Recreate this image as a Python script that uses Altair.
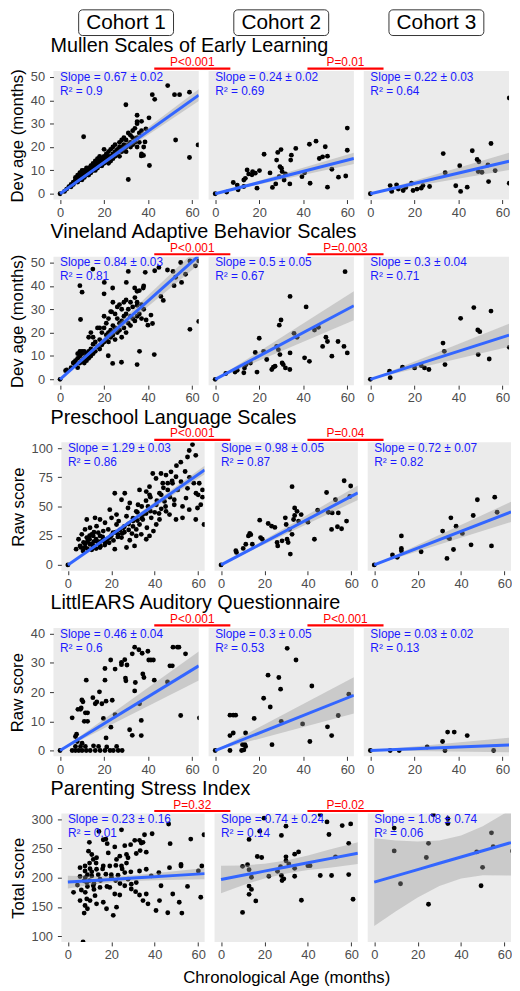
import altair as alt
import pandas as pd

FONT = "Liberation Sans"

# ---------------- text content ----------------
cohorts = ["Cohort 1", "Cohort 2", "Cohort 3"]
row_titles = ["Mullen Scales of Early Learning", "Vineland Adaptive Behavior Scales",
              "Preschool Language Scales", "LittlEARS Auditory Questionnaire",
              "Parenting Stress Index"]
y_titles = ["Dev age (months)", "Dev age (months)", "Raw score", "Raw score", "Total score"]
x_title = "Chronological Age (months)"
y_limits = [(0, 50), (0, 50), (0, 100), (0, 40), (100, 300)]
y_ticks = [[0, 10, 20, 30, 40, 50], [0, 10, 20, 30, 40, 50], [0, 25, 50, 75, 100],
           [0, 10, 20, 30, 40], [100, 150, 200, 250, 300]]
x_ticks = [0, 20, 40, 60]
slope_labels = [["Slope = 0.67 ± 0.02", "Slope = 0.24 ± 0.02", "Slope = 0.22 ± 0.03"],
                ["Slope = 0.84 ± 0.03", "Slope = 0.5 ± 0.05", "Slope = 0.3 ± 0.04"],
                ["Slope = 1.29 ± 0.03", "Slope = 0.98 ± 0.05", "Slope = 0.72 ± 0.07"],
                ["Slope = 0.46 ± 0.04", "Slope = 0.3 ± 0.05", "Slope = 0.03 ± 0.02"],
                ["Slope = 0.23 ± 0.16", "Slope = 0.74 ± 0.24", "Slope = 1.08 ± 0.74"]]
r2_labels = [["R² = 0.9", "R² = 0.69", "R² = 0.64"],
             ["R² = 0.81", "R² = 0.67", "R² = 0.71"],
             ["R² = 0.86", "R² = 0.87", "R² = 0.82"],
             ["R² = 0.6", "R² = 0.53", "R² = 0.13"],
             ["R² = 0.01", "R² = 0.14", "R² = 0.06"]]
p_labels = [["P<0.001", "P=0.01"], ["P<0.001", "P=0.003"], ["P<0.001", "P=0.04"],
            ["P<0.001", "P<0.001"], ["P=0.32", "P=0.02"]]

# ---------------- scatter data (age, score) ----------------
mullen_c1 = [(0,0),(2,1),(3,2),(4,3),(5,3),(5,4),(6,5),(6,4),(7,5),(7,6),(7,7),(8,5),(8,6),(8,7),(8,8),
    (9,6),(9,7),(9,8),(9,9),(10,6),(10,7),(10,8),(10,9),(10,10),(11,7),(11,8),(11,9),(11,10),(12,8),(12,9),
    (12,10),(12,11),(13,8),(13,9),(13,10),(13,11),(14,9),(14,10),(14,12),(15,10),(15,11),(15,13),(16,10),
    (16,12),(16,14),(17,11),(17,13),(17,15),(18,12),(18,14),(18,16),(19,12),(19,13),(19,15),(20,13),(20,14),
    (20,16),(20,19),(21,14),(21,15),(21,17),(22,13),(22,15),(22,16),(22,18),(23,14),(23,16),(23,19),(24,15),
    (24,17),(24,20),(25,16),(25,18),(25,21),(26,17),(26,19),(27,16),(27,20),(27,22),(28,18),(28,20),(28,23),
    (29,19),(29,21),(29,24),(30,18),(30,20),(30,23),(31,21),(31,26),(32,20),(32,22),(32,25),(33,21),(33,24),
    (33,27),(34,22),(34,28),(35,20),(35,24),(35,30),(36,22),(36,26),(37,17),(38,20),(37,27),(37,31),
    (10.7,24.4),(29.9,38.1),(35,33.6),(35,30.8),(41.9,42.4),(43,40.4),(48.9,46.3),(52,42.4),(54.3,42.4),
    (58.8,43.5),(52.5,23),(58.8,15.5),(62.7,20.9),(31,6.1),(40.6,12.1),(37.9,16.4),(39,27.8),(36.9,16.2),
    (40.4,32.5),(38.6,22.2)]
mullen_c2 = [(0,0),(5.2,0.7),(8.2,4.8),(10.4,1.7),(10,3.7),(13,3.1),(13,5.9),(13.7,6.6),(14.5,10.2),(15.2,8.5),
    (16.7,8.1),(17,9.5),(18.2,8.8),(19,2.4),(20.1,9.9),(22.2,16.9),(24.9,8.9),(26,2.7),(27.5,4.2),(27.9,14.4),
    (28.4,17.7),(29.1,7.3),(29.4,11.6),(29.9,18.9),(30.1,10.9),(30.4,9.5),(31.3,5.9),(31.9,8.5),(33.9,4.2),
    (34.3,14.4),(34.6,16.5),(36.6,19.4),(39.4,7.3),(40.6,9),(42.8,21.2),(43.1,4.5),(45.8,22.5),(47.3,15.1),
    (48.8,15.8),(50,20.1),(51,16.1),(51,2.8),(53,10.5),(56,7.1),(59.3,7.6),(60,28.1),(60,18.6)]
mullen_c3 = [(0,0),(9,3.5),(11.9,3.8),(9.7,1),(12.7,2),(14.9,1.4),(16.1,2.7),(18.7,4.5),(19.4,1.4),(21.2,2),
    (23.1,2.4),(23.9,3.5),(26.9,3.1),(33.1,17.2),(34,9),(38.8,3.4),(40.6,12),(41,1),(44,2.8),(46.3,18.4),
    (48.5,14.7),(49.3,13.7),(49,9.5),(50.7,9.2),(53.4,12.3),(53.7,5.2),(54.8,21.5),(56.7,9.9),(63.1,4.5),(63.1,41)]

vineland_c1 = [(0,0),(2.5,3.7),(6.3,7.2),(3,4),(5,5),(6,7),(7,6),(7,8),(8,5),(8,9),(8,11),(9,7),(9,10),(9,12),
    (10,8),(10,11),(10,12),(11,7),(11,9),(11,12),(12,8),(12,10),(12,11),(13,9),(13,12),(13,18),(14,10),(14,13),
    (14,20),(15,11),(15,15),(15,18),(16,12),(16,16),(17,14),(17,22),(18,13),(18,17),(18,22),(19,15),(19,20),
    (20,16),(20,22),(20,27),(21,17),(21,19),(21,24),(22,16),(22,20),(22,26),(23,18),(23,21),(23,29),(24,19),
    (24,23),(24,33),(25,17),(25,22),(25,28),(26,20),(26,26),(26,31),(27,21),(27,24),(27,32),(28,18),(28,25),
    (28,30),(29,22),(29,27),(29,33),(30,20),(30,28),(30,34),(31,24),(31,30),(32,23),(32,27),(32,33),(33,26),
    (33,31),(34,25),(34,35),(35,27),(35,33),(36,28),(36,38),(37,26),(37,32),(38,30),(38,40),
    (9,40.1),(10,37.3),(14.9,47.2),(20.1,41.5),(23.9,39.1),(20,36.6),(23.4,28.9),(30.1,41.5),(31,46.2),
    (33.9,39.1),(35,37.7),(35,31.7),(37.8,39.1),(38.7,45.8),(43,46.5),(44.9,47.9),(48.8,46.8),(51.3,46.2),
    (52.5,43.7),(51.8,40.1),(55.2,41.5),(57,45),(59,50.7),(61.5,48.6),(63,50.7),(54.8,50),(59,21.4),(36.1,12),
    (35,6.3),(27.9,7.3),(23.9,6.8),(42.8,10.6),(63,24.8),(45.8,35.5),(46.9,33.8),(41.3,27.5),(42,23.9),
    (39.9,23.2),(39.1,25.4),(9.3,25.6),(21.9,10.1),(19,14.8)]
vineland_c2 = [(0,0),(4.8,2.5),(10,3.9),(9,3.1),(13,2.8),(13.3,4.9),(14,6.3),(16,7),(19,3.1),(18.2,11.5),
    (20,17.6),(22,12),(23.4,8.5),(25.7,4.2),(26.4,5.2),(27.2,5.6),(27.9,14.1),(28.7,12.7),(29.1,23.2),
    (29.9,25.4),(29.4,10.6),(30.4,7),(30.9,6.3),(31.9,4.9),(33.9,4.2),(34,11.3),(34,35.5),(35.8,19.7),
    (37.2,18),(41.3,31),(40.6,9.2),(42.8,7.7),(45.1,21.1),(46.9,22.3),(48.8,14.1),(50.3,18),(51,16.2),
    (53,9.9),(55.8,16.2),(58.5,14.1),(59,46.1),(60,11.3)]
vineland_c3 = [(0,0),(8.7,3.5),(9,0.7),(14.6,5.2),(20.1,4.9),(23.1,5.9),(24.6,4.9),(26.6,4.2),(33,15.5),
    (33.6,12),(33.9,6.3),(41,26.1),(47,30.7),(48.8,21.1),(49.7,20.4),(49,10.6),(54,8.7),(54.8,29.2),(63.1,13.7)]

preschool_c1 = [(0,0),(57.4,103),(55.9,98),(58.9,93.8),(55.1,92.4),(39.1,78.3),(40.6,74),(42.9,78.3),(45.2,76.9),
    (47.5,79.7),(49.8,75.5),(52.1,71.3),(48.2,69.9),(43.7,69.9),(37.6,67),(36.1,62.8),(33,64.2),(37.6,60),
    (42.2,61.4),(46,64.2),(50.6,64.2),(55.1,65.6),(60.5,69.9),(62,64.2),(59,61.4),(54.4,57.2),(49,55.8),
    (44.5,54.4),(40.7,51.5),(36.9,50.1),(32.3,51.5),(28.5,53),(24.7,55.8),(21.6,61.4),(26.2,61.4),(27.7,48.7),
    (31.5,45.9),(34.5,43.1),(38.4,40.3),(42.2,38.9),(45.2,45.9),(49,51.5),(52.8,50.1),(55.9,47.3),(59.7,48.7),
    (61.2,51.5),(52.8,40.3),(49.8,38.9),(46.8,43.1),(58.9,38.9),(62.7,34.6),(19.3,47.3),(22.4,43.1),(20.1,40.3),
    (23.4,37.5),(27,41.7),(30,37.5),(33,34.6),(36.4,31.8),(39.4,29),(29.5,26.8),(25.6,31.8),(22.4,34.6),
    (17.1,36.1),(14.8,38.9),(12.5,40.3),(8.7,38.9),(13.2,33.2),(10.2,31.8),(7.9,30.4),(6.4,26.2),(4.9,22),
    (3.8,13.5),(5.6,16.3),(7.2,19.2),(9.4,22),(11.7,24.8),(14,27.6),(16.3,29),(18.6,30.4),(20.8,27.6),
    (23.1,26.2),(24.7,23.4),(19.3,23.4),(16.3,22),(13.2,20.6),(10.2,17.7),(7.9,14.9),(11.7,16.3),(14.8,14.9),
    (17.1,19.2),(14.8,24.8),(11,26.2),(8.7,23.4),(28.5,21.1),(31.5,24.8),(33.8,26.2),(36.1,22),(37.6,24.8),
    (30.7,16.3),(21.6,13.5),(27,14.9),(34.5,38.9),(31.5,30.4),(40.7,34.6),
    (8,18),(9,20),(10,22),(11,18),(12,20),(13,22),(14,18),(15,20),(16,24),(18,22),(20,25),(22,28),(24,30),
    (12,28),(10,25),(6,15),(7,12),(9,14),(11,13),(13,14),(15,16),(17,17),(19,19),(21,21),(23,24),(25,27),
    (26,33),(28,35),(30,40),(32,45),(34,50),(36,55),(38,58),(40,45),(41,55),(43,60),(44,66),(46,70),(48,72),
    (50,85),(52,88),(54,80),(56,75),(58,70),(60,60),(62,58),(47,58),(45,50),(43,48),(42,44),(38,46),(36,44),
    (34,40),(32,38),(30,33),(28,30),(26,28)]
preschool_c2 = [(0,0),(6.8,12.1),(7.1,10.7),(10.2,14.1),(11.4,17.7),(12.6,24.8),(13.2,27),(13.7,25.9),(14.4,17.7),
    (17.8,38.3),(18.2,23.4),(19,22),(21.7,35.5),(23.3,33.2),(24.8,32.1),(25.8,19.2),(26.1,16.3),(28.1,20.6),
    (29.6,40.3),(30,34.6),(30.4,22),(30.9,19.2),(31.5,30.4),(31.9,9.3),(32.7,67),(32.7,26.2),(33.4,38.9),
    (33.9,48.7),(33.9,42.3),(35,45.9),(35.7,37.5),(36.9,43.1),(40,36.6),(43,22),(44.5,46.8),(48.6,62),
    (49.4,45.1),(50.9,30.4),(51.2,44.5),(52.7,55.8),(54,44.5),(53.6,32.7),(55.5,31),(56.7,72.1),(57.8,37.5),
    (59.3,58.6),(59.7,67.6)]
preschool_c3 = [(0,0),(8.4,8.5),(10.6,6.5),(12.5,24.8),(12.5,14.1),(12.5,12.1),(21.6,11.3),(31.5,29),(33.5,5.6),
    (34.2,23.4),(34.7,22.5),(35.3,40.3),(36.5,13.2),(37.7,33.2),(40.6,27),(44.6,17.2),(45.6,42.3),(47.5,55.8),
    (54,16.3),(55.5,58),(56.6,45.1)]

littlears_c1 = [(0,0),(5.5,0),(7,0),(8.5,0),(10,0),(11.9,0),(13.7,0),(16,0),(18.2,0),(20.4,0),(22.7,0),(24.2,0),
    (26.4,0),(28.2,0),(7,1.4),(9.3,1.4),(11.5,1.4),(15.2,1.6),(17.5,1.4),(21.2,1.2),(25.7,1.4),(10,2.5),
    (7.8,3.1),(5.5,11.2),(7,4.8),(7.5,5.6),(8.1,14.1),(9.3,14.1),(9.6,14.6),(9.9,17.3),(10.4,16.7),(11,10),
    (11.5,12.9),(11.9,24.1),(12.5,12.9),(12.5,10),(14.9,18.1),(16,16),(16.7,16.6),(17.9,20.1),(19,16),
    (19.7,11),(20.4,24.1),(20.4,28.1),(20.9,16.9),(20.9,4.3),(23,31),(23.1,8),(23.7,17.2),(25,27.9),(25,12.3),
    (27.9,30.2),(27.9,29.4),(29.4,31.1),(29.7,24.8),(29.9,23.9),(30.4,29.3),(31.6,7.1),(32.8,33.1),(32.8,5.2),
    (33.9,35.4),(33.9,20.4),(34.2,23.3),(35.8,34.5),(36.1,16),(36.9,10.3),(36.9,5.1),(37.3,33.3),(37.6,26.2),
    (38.1,25),(39.9,34),(40.3,31),(41.3,31),(42.4,31),(42.8,24.1),(48.8,23.5),(49.9,29),(51,29),(51.3,35.4),
    (53.3,35.4),(54,35.4),(54.8,12),(57,33.1),(63.3,11.2)]
littlears_c2 = [(0,0),(6.7,5.1),(6.7,0),(6.7,12.1),(8.2,12.1),(8.2,6),(9.3,12.1),(12,0),(12.4,2),(13,0.2),(13.5,2),
    (13.8,6),(13.8,1.4),(17.7,11),(22,17.9),(24,25.8),(25,14.9),(25.8,2),(28.9,25),(29.7,21),(30,10),(32.7,35),
    (36.7,31),(39.7,9.1),(43,3.1),(43.9,22.1),(51,8.1),(52.9,5.1),(55.9,12),(60.7,19.3)]
littlears_c3 = [(0,0),(9,0),(13.1,0),(25.8,1.2),(32.8,3.1),(33.9,0),(35.1,6.3),(38.1,6.3),(44,5.1),(56,0)]

psi_c1 = [(38.8,275.2),(35.3,273.5),(33,264),(33.8,259.4),(34.6,260.6),(30.8,264),(28.9,256.6),(26.2,254.9),
    (24.7,282),(21.6,252.7),(17.5,266.2),(16.3,265),(18.1,258.3),(14.3,279.2),(9.9,260.6),(9.5,245.4),
    (47.1,258.3),(56.6,266.2),(46.4,292),(62.7,273.5),(36.1,243.7),(33.3,246.5),(31.5,241.4),(27,239.7),
    (27.7,234.1),(23.9,236.9),(22.4,231.3),(18.6,242.5),(19.3,220),(22.1,221.1),(24.7,220),(13.2,234.1),
    (11.7,231.3),(11,239.7),(7.9,220),(10.2,215.5),(13.2,214.4),(16.3,220),(5.6,217.2),(7.9,211.5),(2.6,174.9),
    (7.5,194.6),(8.7,191.8),(11,203.1),(14.8,197.5),(17.5,205.9),(20.1,200.3),(23.1,204.2),(26.2,208.7),
    (27.7,197.5),(29.2,189),(31.5,191.8),(33,211.5),(36.1,214.4),(38.4,203.1),(41.9,208.7),(42.9,186.2),
    (46.8,217.2),(52.1,222.8),(52.1,220),(60.1,211.5),(61.7,220),(61.2,166.5),(55.1,185.1),(51.3,158),
    (42.2,160.8),(36.1,172.1),(34.6,160.8),(36.9,155.2),(40.6,143.9),(46,140),(52.5,139.4),(48.3,172.1),
    (22.4,149.6),(20.9,135.5),(17.8,146.8),(16.3,158),(13.2,155.2),(12.5,169.3),(10.2,160.8),(8.7,163.7),
    (7.9,152.4),(9,146.8),(7.5,139.4),(5.6,160.8),(5.6,202),(4.4,187.3),(6.2,178.9),(11.7,186.2),(14.8,183.4),
    (19.3,183.4),(21.6,172.1),(23.9,170.4),(26.2,186.2),(29.2,180.6),(31.2,176.1),(33,170.4),(7,90),
    (8,200),(9,205),(10,195),(11,210),(12,190),(13,225),(14,205),(15,195),(16,215),(18,185),(20,205),(22,195),
    (24,190),(25,215),(27,225),(29,210),(10,225),(12,180),(8,175),(9,185)]
psi_c2 = [(9.9,140.6),(16,160.3),(12.9,171.5),(12.9,185.6),(14,180),(12.2,222.3),(9.9,219.4),(12.9,213.8),
    (12.9,265.6),(16.7,236.3),(18.7,234.6),(19.8,302),(17.8,279.7),(22,202.5),(27.8,272.4),(29.9,288.2),(26,211),
    (27.8,203.7),(28.1,195.2),(28.9,198),(27.4,218.9),(29.9,235.8),(29.9,229),(31.2,223.4),(33.9,202.5),
    (33.9,216),(33.9,240.3),(35.7,244.2),(37,161.4),(40,220.6),(41,220.6),(45.7,203.7),(45.7,307.9),
    (48.8,295.5),(49.7,274),(50.9,203.7),(52.7,235.8),(55.8,289.3),(58.8,205.4),(58.8,258.9),(59.7,292.1),
    (60.8,163.1),(14,200.8)]
psi_c3 = [(9.2,285),(9.2,245.9),(12.1,189.6),(24,234.6),(25,258.9),(25,154.6),(27.2,307.9),(33.9,301.1),
    (33.9,292.7),(47.2,244.2),(49.2,186.2),(49.9,217.7),(54,276.9),(54.8,253.2),(63.7,245.9)]

points = [[mullen_c1, mullen_c2, mullen_c3],
          [vineland_c1, vineland_c2, vineland_c3],
          [preschool_c1, preschool_c2, preschool_c3],
          [littlears_c1, littlears_c2, littlears_c3],
          [psi_c1, psi_c2, psi_c3]]

# ---------------- fitted lines and 95% bands ----------------
fit_x_short = [0, 63]
fit_short = {  # (fit, lower, upper) at x = 0 and 63
    (0, 0): ([0, 42.2], [0, 39.7], [0, 44.7]),
    (0, 1): ([0, 15.1], [0, 12.7], [0, 17.6]),
    (0, 2): ([0, 13.9], [0, 10.2], [0, 17.6]),
    (1, 0): ([0, 52.9], [0, 49.2], [0, 56.6]),
    (1, 1): ([0, 31.5], [0, 25.3], [0, 37.7]),
    (1, 2): ([0, 18.9], [0, 14.0], [0, 23.8]),
    (2, 0): ([0, 81.3], [0, 77.6], [0, 85.0]),
    (2, 1): ([0, 61.7], [0, 55.6], [0, 67.9]),
    (2, 2): ([0, 45.4], [0, 36.7], [0, 54.0]),
    (3, 0): ([0, 29.0], [0, 24.0], [0, 33.9]),
    (3, 1): ([0, 18.9], [0, 12.7], [0, 25.1]),
    (3, 2): ([0, 1.9], [0, -0.6], [0, 4.4]),
}
fit_x_long = [0, 10, 20, 30, 40, 50, 63]
fit_long = {
    (4, 0): ([192.5, 194.8, 197.1, 199.4, 201.7, 204.0, 207.0],
             [181.5, 187.3, 191.6, 194.4, 195.7, 196.5, 197.5],
             [203.5, 202.3, 202.6, 204.4, 207.7, 211.5, 216.5]),
    (4, 1): ([196.9, 204.1, 211.2, 218.4, 225.5, 232.7, 242.0],
             [173.4, 187.1, 198.7, 207.4, 213.0, 217.2, 223.5],
             [220.4, 221.1, 223.7, 229.4, 238.0, 248.2, 260.5]),
    (4, 2): ([192.4, 203.2, 213.9, 224.7, 235.4, 246.2, 260.1],
             [117.4, 142.7, 166.0, 185.6, 198.7, 204.2, 203.6],
             [267.4, 263.7, 261.8, 263.8, 272.1, 288.2, 316.6]),
}

# ---------------- layout (pixels) ----------------
PANEL_H = 130
panel_w = [147, 147, 145, 147, 145]
panel_left = [53, 53, 61, 53, 61]     # expected absolute left of cohort-1 panel
P_LINES = [(155, 232), (310, 387)]    # absolute x of the red comparison bars
P_TEXT_X = [193.5, 348.5]


def panel(r, c):
    W = panel_w[r]
    lo, hi = y_limits[r]
    pad = (hi - lo) * 0.05
    xs = alt.Scale(domain=[-3, 63], nice=False, zero=False)
    ys = alt.Scale(domain=[lo - pad, hi + pad], nice=False, zero=False)
    xaxis = alt.Axis(values=x_ticks, title=x_title if (r == 4 and c == 1) else None,
                     titlePadding=8)
    if c == 0:
        yaxis = alt.Axis(values=y_ticks[r], title=y_titles[r])
    else:
        yaxis = None

    def X(f):
        return alt.X(f, type="quantitative", scale=xs, axis=xaxis)

    def Y(f):
        return alt.Y(f, type="quantitative", scale=ys, axis=yaxis)

    pts = points[r][c]
    df = pd.DataFrame({"age": [p[0] for p in pts], "score": [p[1] for p in pts]})
    layers = [alt.Chart(df).mark_circle(size=24, color="black", opacity=1, clip=True)
              .encode(x=X("age"), y=Y("score"))]

    if (r, c) in fit_short:
        fx = fit_x_short
        fy, flo, fhi = fit_short[(r, c)]
    else:
        fx = fit_x_long
        fy, flo, fhi = fit_long[(r, c)]
    dfit = pd.DataFrame({"x": fx, "fit": fy, "lo": flo, "hi": fhi})
    layers.append(alt.Chart(dfit).mark_area(color="#999999", opacity=0.4, clip=True)
                  .encode(x=X("x"), y=Y("lo"), y2=alt.Y2("hi")))
    layers.append(alt.Chart(dfit).mark_line(color="#3366FF", strokeWidth=3, clip=True)
                  .encode(x=X("x"), y=Y("fit")))

    dtxt = pd.DataFrame({"x": [0], "y": [hi], "s": [slope_labels[r][c]], "r": [r2_labels[r][c]]})
    layers.append(alt.Chart(dtxt).mark_text(align="left", baseline="middle", fontSize=12,
                                            font=FONT, color="#1A1AFF")
                  .encode(x=X("x"), y=Y("y"), text="s:N"))
    layers.append(alt.Chart(dtxt).mark_text(align="left", baseline="middle", fontSize=12,
                                            font=FONT, color="#1A1AFF", dy=14)
                  .encode(x=X("x"), y=Y("y"), text="r:N"))

    one = pd.DataFrame({"k": [0]})
    left = panel_left[r] + c * (W + 10)

    # comparison bars between cohorts
    if c in (0, 1):
        a, b = P_LINES[c]
        layers.append(alt.Chart(one).mark_rule(color="#FF0000", strokeWidth=2.2)
                      .encode(x=alt.value(a - left), x2=alt.value(b - left), y=alt.value(-2.5)))
        layers.append(alt.Chart(pd.DataFrame({"t": [p_labels[r][c]]}))
                      .mark_text(align="center", baseline="middle", fontSize=12, font=FONT,
                                 color="#FF0000")
                      .encode(x=alt.value(P_TEXT_X[c] - left), y=alt.value(-9), text="t:N"))

    # row title
    if c == 0:
        layers.append(alt.Chart(pd.DataFrame({"t": [row_titles[r]]}))
                      .mark_text(align="left", baseline="middle", fontSize=20, font=FONT,
                                 color="black")
                      .encode(x=alt.value(50 - left), y=alt.value(-25), text="t:N"))

    # cohort headers
    if r == 0:
        layers.append(alt.Chart(one).mark_rect(fill="white", stroke="#333333", strokeWidth=1,
                                               cornerRadius=4)
                      .encode(x=alt.value(W / 2 - 48), x2=alt.value(W / 2 + 48),
                              y=alt.value(-62), y2=alt.value(-36)))
        layers.append(alt.Chart(pd.DataFrame({"t": [cohorts[c]]}))
                      .mark_text(align="center", baseline="middle", fontSize=21, font=FONT,
                                 color="black")
                      .encode(x=alt.value(W / 2), y=alt.value(-48.5), text="t:N"))

    return alt.layer(*layers).properties(
        width=W, height=PANEL_H,
        view=alt.ViewBackground(fill="#EBEBEB", strokeWidth=0))


rows = []
for r in range(5):
    inner = alt.hconcat(*[panel(r, c) for c in range(3)], spacing=10, bounds="flush")
    shift = panel_left[r] - panel_left[0]
    if shift > 0:
        spacer = (alt.Chart(pd.DataFrame({"k": [0]})).mark_point(opacity=0)
                  .encode(x=alt.value(0), y=alt.value(0))
                  .properties(width=1, height=PANEL_H, view=alt.ViewBackground(strokeWidth=0)))
        inner = alt.hconcat(spacer, inner, spacing=shift - 1, bounds="flush")
    rows.append(inner)

chart = alt.vconcat(*rows, spacing=2.8).properties(
    padding={"left": 0, "top": -5, "right": 0, "bottom": 0}
).configure_view(strokeWidth=0).configure_axis(
    labelFont=FONT, titleFont=FONT, labelFontSize=13, titleFontSize=17,
    titleFontWeight="normal", titleColor="black", labelColor="#4D4D4D",
    tickColor="#333333", tickSize=4, tickWidth=1, domain=False, grid=False
).configure_axisX(labelPadding=3).configure_axisY(labelPadding=5, titlePadding=4)

chart.save("out.html", embed_options={"renderer": "svg", "actions": False})
